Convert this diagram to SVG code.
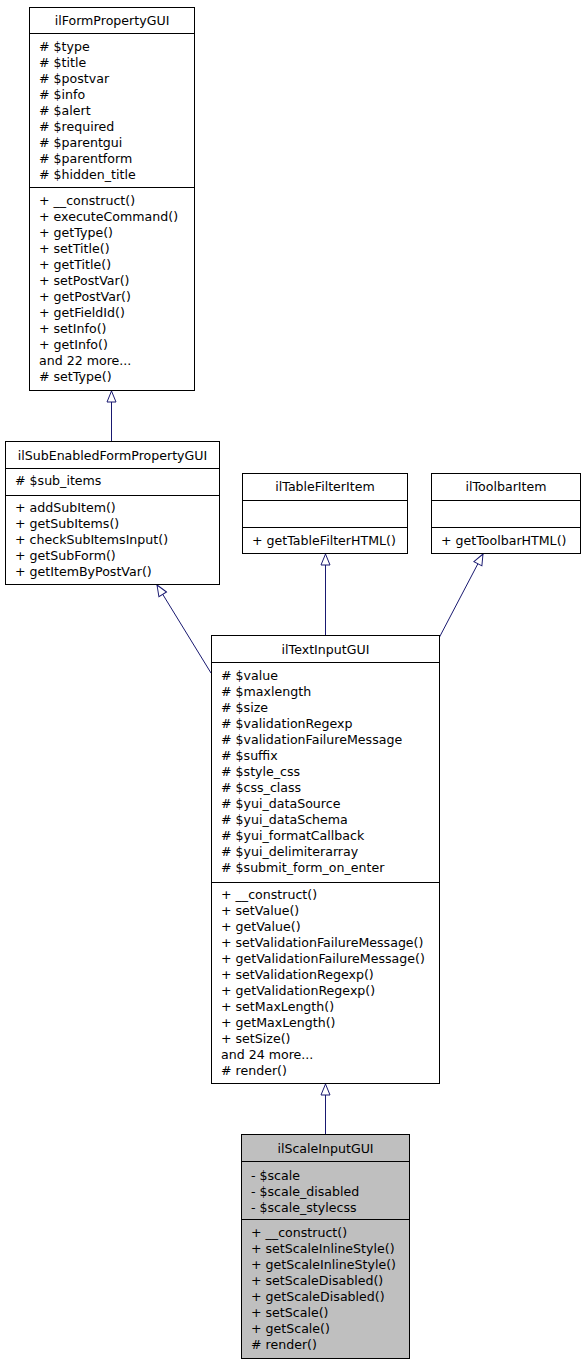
<svg xmlns="http://www.w3.org/2000/svg" width="584" height="1365" viewBox="0 0 584 1365">
<style>
.box{fill:#ffffff;stroke:#000000;stroke-width:1}
.gray{fill:#bfbfbf}
.sep{stroke:#000000;stroke-width:1}
text{font-family:"DejaVu Sans",sans-serif;font-size:12.6px;fill:#000000}
.c{text-anchor:middle}
.edge{fill:none;stroke:#191970;stroke-width:1}
</style>
<defs>
<marker id="inh" viewBox="0 0 13 11" refX="12" refY="5.5" markerWidth="13" markerHeight="11" markerUnits="userSpaceOnUse" orient="auto">
<path d="M1,1 L12,5.5 L1,10 Z" fill="#ffffff" stroke="#191970" stroke-width="1"/>
</marker>
</defs>
<rect width="584" height="1365" fill="#ffffff"/>
<g id="connectors">
<path class="edge" d="M111.5,441 L111.5,391" marker-end="url(#inh)"/>
<path class="edge" d="M325.5,635 L325.5,554" marker-end="url(#inh)"/>
<path class="edge" d="M211,673 L157,585" marker-end="url(#inh)"/>
<path class="edge" d="M439,638 L483,554" marker-end="url(#inh)"/>
<path class="edge" d="M325.5,1134 L325.5,1084" marker-end="url(#inh)"/>
</g>
<g id="ilFormPropertyGUI">
<rect class="box" x="29.5" y="7.5" width="165" height="383"/>
<line class="sep" x1="29.5" y1="33.5" x2="194.5" y2="33.5"/>
<line class="sep" x1="29.5" y1="187.5" x2="194.5" y2="187.5"/>
<text class="c" x="112" y="24.5">ilFormPropertyGUI</text>
<text x="39" y="51">
<tspan x="39" y="51"># $type</tspan>
<tspan x="39" y="67"># $title</tspan>
<tspan x="39" y="83"># $postvar</tspan>
<tspan x="39" y="99"># $info</tspan>
<tspan x="39" y="115"># $alert</tspan>
<tspan x="39" y="131"># $required</tspan>
<tspan x="39" y="147"># $parentgui</tspan>
<tspan x="39" y="163"># $parentform</tspan>
<tspan x="39" y="179"># $hidden_title</tspan>
</text>
<text x="39" y="205">
<tspan x="39" y="205">+ __construct()</tspan>
<tspan x="39" y="221">+ executeCommand()</tspan>
<tspan x="39" y="237">+ getType()</tspan>
<tspan x="39" y="253">+ setTitle()</tspan>
<tspan x="39" y="269">+ getTitle()</tspan>
<tspan x="39" y="285">+ setPostVar()</tspan>
<tspan x="39" y="301">+ getPostVar()</tspan>
<tspan x="39" y="317">+ getFieldId()</tspan>
<tspan x="39" y="333">+ setInfo()</tspan>
<tspan x="39" y="349">+ getInfo()</tspan>
<tspan x="39" y="365">and 22 more...</tspan>
<tspan x="39" y="381"># setType()</tspan>
</text>
</g>
<g id="ilSubEnabledFormPropertyGUI">
<rect class="box" x="5.5" y="441.5" width="214" height="143"/>
<line class="sep" x1="5.5" y1="468.5" x2="219.5" y2="468.5"/>
<line class="sep" x1="5.5" y1="495.5" x2="219.5" y2="495.5"/>
<text class="c" x="112.5" y="459.5">ilSubEnabledFormPropertyGUI</text>
<text x="15" y="485"># $sub_items</text>
<text x="15" y="512">
<tspan x="15" y="512">+ addSubItem()</tspan>
<tspan x="15" y="528">+ getSubItems()</tspan>
<tspan x="15" y="544">+ checkSubItemsInput()</tspan>
<tspan x="15" y="560">+ getSubForm()</tspan>
<tspan x="15" y="576">+ getItemByPostVar()</tspan>
</text>
</g>
<g id="ilTableFilterItem">
<rect class="box" x="242.5" y="473.5" width="165" height="80"/>
<line class="sep" x1="242.5" y1="500.5" x2="407.5" y2="500.5"/>
<line class="sep" x1="242.5" y1="527.5" x2="407.5" y2="527.5"/>
<text class="c" x="325" y="491">ilTableFilterItem</text>
<text x="252" y="544.5">+ getTableFilterHTML()</text>
</g>
<g id="ilToolbarItem">
<rect class="box" x="431.5" y="473.5" width="149" height="80"/>
<line class="sep" x1="431.5" y1="500.5" x2="580.5" y2="500.5"/>
<line class="sep" x1="431.5" y1="527.5" x2="580.5" y2="527.5"/>
<text class="c" x="506" y="491">ilToolbarItem</text>
<text x="441" y="544.5">+ getToolbarHTML()</text>
</g>
<g id="ilTextInputGUI">
<rect class="box" x="211.5" y="635.5" width="228" height="448"/>
<line class="sep" x1="211.5" y1="662.5" x2="439.5" y2="662.5"/>
<line class="sep" x1="211.5" y1="882.5" x2="439.5" y2="882.5"/>
<text class="c" x="325.5" y="653.5">ilTextInputGUI</text>
<text x="221" y="680">
<tspan x="221" y="680"># $value</tspan>
<tspan x="221" y="696"># $maxlength</tspan>
<tspan x="221" y="712"># $size</tspan>
<tspan x="221" y="728"># $validationRegexp</tspan>
<tspan x="221" y="744"># $validationFailureMessage</tspan>
<tspan x="221" y="760"># $suffix</tspan>
<tspan x="221" y="776"># $style_css</tspan>
<tspan x="221" y="792"># $css_class</tspan>
<tspan x="221" y="808"># $yui_dataSource</tspan>
<tspan x="221" y="824"># $yui_dataSchema</tspan>
<tspan x="221" y="840"># $yui_formatCallback</tspan>
<tspan x="221" y="856"># $yui_delimiterarray</tspan>
<tspan x="221" y="872"># $submit_form_on_enter</tspan>
</text>
<text x="221" y="899">
<tspan x="221" y="899">+ __construct()</tspan>
<tspan x="221" y="915">+ setValue()</tspan>
<tspan x="221" y="931">+ getValue()</tspan>
<tspan x="221" y="947">+ setValidationFailureMessage()</tspan>
<tspan x="221" y="963">+ getValidationFailureMessage()</tspan>
<tspan x="221" y="979">+ setValidationRegexp()</tspan>
<tspan x="221" y="995">+ getValidationRegexp()</tspan>
<tspan x="221" y="1011">+ setMaxLength()</tspan>
<tspan x="221" y="1027">+ getMaxLength()</tspan>
<tspan x="221" y="1043">+ setSize()</tspan>
<tspan x="221" y="1059">and 24 more...</tspan>
<tspan x="221" y="1075"># render()</tspan>
</text>
</g>
<g id="ilScaleInputGUI">
<rect class="box gray" x="241.5" y="1134.5" width="168" height="224"/>
<line class="sep" x1="241.5" y1="1161.5" x2="409.5" y2="1161.5"/>
<line class="sep" x1="241.5" y1="1219.5" x2="409.5" y2="1219.5"/>
<text class="c" x="325.5" y="1153">ilScaleInputGUI</text>
<text x="251" y="1179.5">
<tspan x="251" y="1179.5">- $scale</tspan>
<tspan x="251" y="1195.5">- $scale_disabled</tspan>
<tspan x="251" y="1211.5">- $scale_stylecss</tspan>
</text>
<text x="251" y="1237">
<tspan x="251" y="1237">+ __construct()</tspan>
<tspan x="251" y="1253">+ setScaleInlineStyle()</tspan>
<tspan x="251" y="1269">+ getScaleInlineStyle()</tspan>
<tspan x="251" y="1285">+ setScaleDisabled()</tspan>
<tspan x="251" y="1301">+ getScaleDisabled()</tspan>
<tspan x="251" y="1317">+ setScale()</tspan>
<tspan x="251" y="1333">+ getScale()</tspan>
<tspan x="251" y="1349"># render()</tspan>
</text>
</g>
</svg>
